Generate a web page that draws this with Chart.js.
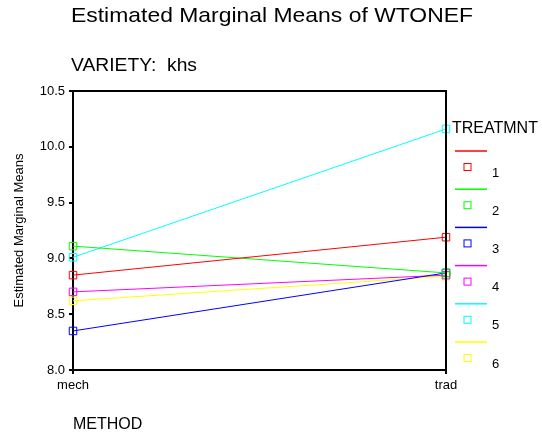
<!DOCTYPE html>
<html lang="en">
<head>
    <meta charset="UTF-8">
    <title>Estimated Marginal Means of WTONEF</title>
    <script src="https://cdnjs.cloudflare.com/ajax/libs/Chart.js/4.4.1/chart.umd.js"></script>
    <style>
        body {
            margin: 0;
            background: #ffffff;
        }
        #chart {
            display: block;
        }
    </style>
</head>
<body>
    <canvas id="chart" width="542" height="438"></canvas>

    <script>
        // Data
        const methods = ['mech', 'trad'];
        const treatments = ['1', '2', '3', '4', '5', '6'];
        const treat1 = [8.85, 9.19];
        const treat2 = [9.11, 8.87];
        const treat3 = [8.35, 8.87];
        const treat4 = [8.70, 8.85];
        const treat5 = [9.01, 10.16];
        const treat6 = [8.62, 8.84];
        const yTicks = [8.0, 8.5, 9.0, 9.5, 10.0, 10.5];

        const colors = ['#ff0000', '#00ff00', '#0000ff', '#ff00ff', '#00ffff', '#ffff00'];
        const series = [treat1, treat2, treat3, treat4, treat5, treat6];
        const FONT = '"Liberation Sans", Arial, sans-serif';

        // draw text squeezed/stretched to a given width
        function fitText(ctx, text, x, y, width) {
            const w = ctx.measureText(text).width;
            ctx.save();
            ctx.translate(x, y);
            ctx.scale(width / w, 1);
            ctx.fillText(text, 0, 0);
            ctx.restore();
        }

        // Titles, legend and the box round the plot
        const decorPlugin = {
            id: 'decor',
            afterDraw(chart) {
                const ctx = chart.ctx;
                const area = chart.chartArea;
                ctx.save();

                // frame on top and right
                ctx.strokeStyle = '#000';
                ctx.lineWidth = 2;
                ctx.beginPath();
                ctx.moveTo(area.left, area.top);
                ctx.lineTo(area.right, area.top);
                ctx.lineTo(area.right, area.bottom);
                ctx.stroke();

                ctx.fillStyle = '#000';
                ctx.textBaseline = 'alphabetic';
                ctx.textAlign = 'left';
                ctx.font = '21px ' + FONT;
                fitText(ctx, 'Estimated Marginal Means of WTONEF', 71, 22, 402);
                ctx.font = '18px ' + FONT;
                fitText(ctx, 'VARIETY:  khs', 71, 71, 126);

                // legend
                ctx.font = '16px ' + FONT;
                ctx.textBaseline = 'middle';
                ctx.fillText('TREATMNT', 452, 129);
                ctx.font = '13px ' + FONT;
                treatments.forEach((t, i) => {
                    const ly = 151 + i * 38.2;
                    ctx.strokeStyle = colors[i];
                    ctx.lineWidth = 1.5;
                    ctx.beginPath();
                    ctx.moveTo(455, ly);
                    ctx.lineTo(487, ly);
                    ctx.stroke();
                    ctx.lineWidth = 1;
                    ctx.strokeRect(464, ly + 12.5, 7, 7);
                    ctx.fillStyle = '#000';
                    ctx.fillText(t, 492, ly + 22);
                });
                ctx.restore();
            }
        };

        new Chart(document.getElementById('chart'), {
            type: 'line',
            data: {
                labels: methods,
                datasets: series.map((vals, i) => ({
                    label: treatments[i],
                    data: vals,
                    borderColor: colors[i],
                    borderWidth: 1,
                    pointStyle: 'rect',
                    pointRadius: 5.3,
                    pointBorderWidth: 1,
                    pointBorderColor: colors[i],
                    pointBackgroundColor: 'rgba(0,0,0,0)',
                    tension: 0
                }))
            },
            options: {
                responsive: false,
                animation: false,
                layout: {
                    padding: { top: 91, right: 96, left: 0, bottom: 0 }
                },
                plugins: {
                    legend: { display: false },
                    title: { display: false },
                    tooltip: { enabled: false }
                },
                scales: {
                    x: {
                        type: 'category',
                        offset: false,
                        afterFit: scale => { scale.height = 68; },
                        border: { color: '#000', width: 2 },
                        grid: {
                            drawOnChartArea: false,
                            color: '#000',
                            lineWidth: 2,
                            tickLength: 4
                        },
                        ticks: {
                            color: '#000',
                            font: { family: FONT, size: 13 },
                            padding: 4,
                            maxRotation: 0
                        },
                        title: {
                            display: true,
                            text: 'METHOD',
                            align: 'start',
                            color: '#000',
                            font: { family: FONT, size: 16 },
                            padding: { top: 0, bottom: 4 }
                        }
                    },
                    y: {
                        min: 8.0,
                        max: 10.5,
                        afterFit: scale => { scale.width = 73; },
                        afterBuildTicks: scale => {
                            scale.ticks = yTicks.map(v => ({ value: v }));
                        },
                        border: { color: '#000', width: 2 },
                        grid: {
                            drawOnChartArea: false,
                            color: '#000',
                            lineWidth: 2,
                            tickLength: 4
                        },
                        ticks: {
                            color: '#000',
                            font: { family: FONT, size: 13 },
                            padding: 4,
                            callback: v => Number(v).toFixed(1)
                        },
                        title: {
                            display: true,
                            text: 'Estimated Marginal Means',
                            color: '#000',
                            font: { family: FONT, size: 13 },
                            padding: { top: 12, bottom: 0 }
                        }
                    }
                }
            },
            plugins: [decorPlugin]
        });
    </script>
</body>
</html>
